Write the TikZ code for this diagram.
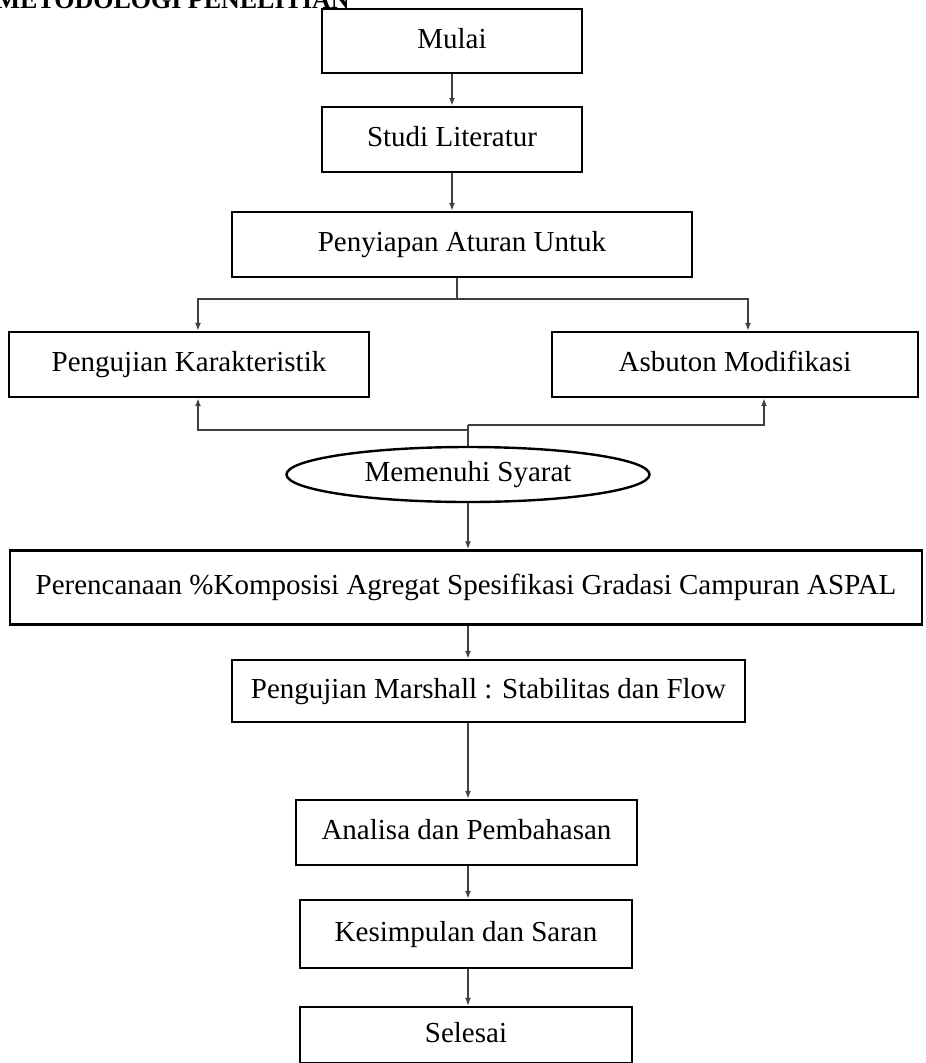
\documentclass[tikz,border=0pt]{standalone}
\usepackage{fontspec}
\setmainfont{Liberation Serif}
\usetikzlibrary{arrows.meta,shapes.geometric}

\tikzset{
    kotak/.style={draw, line width=2.4pt, inner sep=0pt, minimum height=65pt,
        text height=20pt, text depth=6pt,
        font=\fontsize{29}{34}\selectfont},
    lonjong/.style={kotak, ellipse},
    garis/.style={draw=black!75, line width=2pt},
    panah/.style={garis, -{Latex[length=8pt,width=6pt]}},
}

\begin{document}
\begin{tikzpicture}[x=1pt,y=-1pt]
    \useasboundingbox (0,0) rectangle (926,1063);
    \node[anchor=base west, font=\bfseries\fontsize{26}{30}\selectfont] (judul) at (-8,8) {METODOLOGI PENELITIAN};
    % kotak-kotak alur
    \node[kotak, minimum width=260pt, minimum height=64pt] (mulai) at (452,41) {Mulai};
    \node[kotak, minimum width=260pt] (studi) at (452,139.5) {Studi Literatur};
    \node[kotak, minimum width=460pt] (siap) at (462,244.5) {Penyiapan Aturan Untuk};
    \node[kotak, minimum width=360pt] (uji) at (189,364.5) {Pengujian Karakteristik};
    \node[kotak, minimum width=366pt] (asbuton) at (735,364.5) {Asbuton Modifikasi};
    \node[lonjong, minimum width=363pt, minimum height=55pt] (syarat) at (468,474.5) {Memenuhi Syarat};
    \node[kotak, minimum width=912pt, minimum height=74pt] (rencana) at (466,587.5) {Perencanaan \%Komposisi Agregat Spesifikasi Gradasi Campuran ASPAL};
    \node[kotak, minimum width=513pt, minimum height=62pt] (marshall) at (488.5,691) {Pengujian Marshall : Stabilitas dan Flow};
    \node[kotak, minimum width=341pt] (analisa) at (466.5,832.5) {Analisa dan Pembahasan};
    \node[kotak, minimum width=332pt, minimum height=68pt] (simpul) at (466,934) {Kesimpulan dan Saran};
    \node[kotak, minimum width=332pt, minimum height=56pt] (selesai) at (466,1035) {Selesai};
    % titik belok
    \coordinate (cabang) at (457,299);
    \coordinate (kiri) at (198,299);
    \coordinate (kanan) at (748,299);
    \coordinate (gabungkiri) at (468,430);
    \coordinate (gabungkanan) at (468,425);
    \coordinate (bawahkiri) at (198,430);
    \coordinate (bawahkanan) at (764,425);
    % panah
    \draw[panah] (mulai.south) -- (studi.north);
    \draw[panah] (studi.south) -- (studi.south |- siap.north);
    \draw[garis] (siap.south -| cabang) -- (cabang);
    \draw[panah] (cabang) -- (kiri) -- (kiri |- uji.north);
    \draw[panah] (cabang) -- (kanan) -- (kanan |- asbuton.north);
    \draw[garis] (syarat.north) -- (gabungkanan);
    \draw[panah] (gabungkiri) -- (bawahkiri) -- (bawahkiri |- uji.south);
    \draw[panah] (gabungkanan) -- (bawahkanan) -- (bawahkanan |- asbuton.south);
    \draw[panah] (syarat.south) -- (syarat.south |- rencana.north);
    \draw[panah] (rencana.south -| syarat) -- (marshall.north -| syarat);
    \draw[panah] (marshall.south -| syarat) -- (analisa.north -| syarat);
    \draw[panah] (analisa.south -| syarat) -- (simpul.north -| syarat);
    \draw[panah] (simpul.south -| syarat) -- (selesai.north -| syarat);
\end{tikzpicture}
\end{document}
